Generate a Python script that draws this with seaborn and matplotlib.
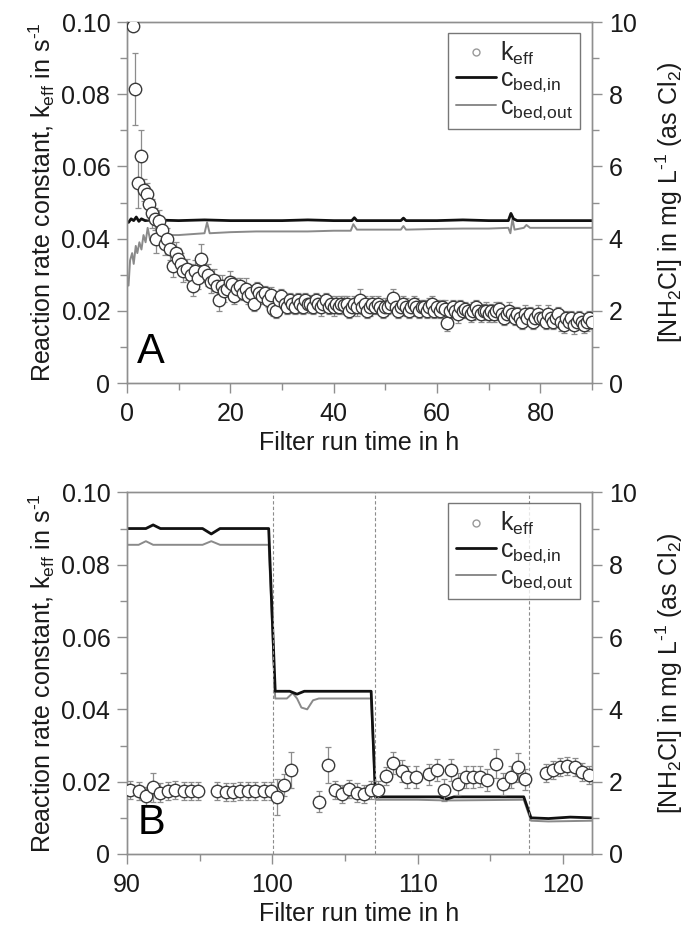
import numpy as np
import seaborn as sns
import matplotlib.pyplot as plt
from matplotlib.lines import Line2D
from matplotlib.ticker import MultipleLocator

# ---- panel A data: effective rate constant k_eff (left axis, 1/s) ----
ka_x_early = [1.2, 1.6, 2.2, 2.7, 3.3, 3.8, 4.3, 4.9, 5.4, 5.6,
              6.1, 6.7, 7.3, 7.8, 8.3, 8.9, 9.4, 9.8, 10.4, 10.9,
              11.7, 12.3, 12.8, 13.2, 13.7, 14.4, 14.9, 15.6, 16.2, 16.9,
              17.4, 17.8, 18.3, 18.8, 19.3, 19.9, 20.4, 20.7, 21.3, 21.9,
              22.4, 23.0, 23.5, 24.0, 24.5, 25.1, 25.6, 26.2, 26.7, 27.3,
              27.8, 28.3, 28.8, 29.4, 29.9, 30.5, 31.0]
ka_y_early = [0.099, 0.0815, 0.0555, 0.063, 0.0535, 0.0525, 0.0495, 0.047, 0.0455, 0.040,
              0.045, 0.0425, 0.0385, 0.040, 0.037, 0.0325, 0.036, 0.0345, 0.033, 0.031,
              0.0315, 0.030, 0.027, 0.031, 0.029, 0.0345, 0.031, 0.030, 0.028, 0.0285,
              0.027, 0.023, 0.027, 0.0255, 0.026, 0.028, 0.0275, 0.024, 0.026, 0.027,
              0.025, 0.026, 0.024, 0.025, 0.022, 0.026, 0.025, 0.024, 0.025, 0.023,
              0.0245, 0.0205, 0.020, 0.023, 0.024, 0.022, 0.021]
ka_e_early = [0.001, 0.010, 0.007, 0.007, 0.003, 0.003, 0.004, 0.004, 0.003, 0.004,
              0.003, 0.003, 0.003, 0.003, 0.003, 0.003, 0.003, 0.003, 0.003, 0.003,
              0.003, 0.003, 0.003, 0.003, 0.003, 0.004, 0.003, 0.003, 0.003, 0.003,
              0.003, 0.003, 0.003, 0.003, 0.002, 0.003, 0.002, 0.002, 0.003, 0.002,
              0.002, 0.003, 0.002, 0.002, 0.002, 0.002, 0.002, 0.002, 0.002, 0.002,
              0.002, 0.002, 0.002, 0.002, 0.002, 0.002, 0.002]

ka_x_late = [31.5, 32.0, 32.5, 33.0, 33.5, 34.0, 34.5, 35.0, 35.5, 36.0,
             36.5, 37.0, 37.5, 38.0, 38.5, 39.0, 39.5, 40.0,
             40.5, 41.0, 41.5, 42.0, 42.5, 43.0, 43.5, 44.0, 44.5, 45.0,
             45.5, 46.0, 46.5, 47.0, 47.5, 48.0, 48.5, 49.0, 49.5, 50.0,
             50.5, 51.0, 51.5, 52.0, 52.5, 53.0, 53.5, 54.0, 54.5, 55.0,
             55.5, 56.0, 56.5, 57.0, 57.5, 58.0, 58.5, 59.0, 59.5, 60.0,
             60.5, 61.0, 61.5, 62.0, 62.5, 63.0, 63.5, 64.0, 64.5, 65.0,
             65.5, 66.0, 66.5, 67.0, 67.5, 68.0, 68.5, 69.0, 69.5, 70.0,
             70.5, 71.0, 71.5, 72.0, 72.5, 73.0, 73.5, 74.0, 74.5, 75.0,
             75.5, 76.0, 76.5, 77.0, 77.5, 78.0, 78.5, 79.0, 79.5, 80.0,
             80.5, 81.0, 81.5, 82.0, 82.5, 83.0, 83.5, 84.0, 84.5, 85.0,
             85.5, 86.0, 86.5, 87.0, 87.5, 88.0, 88.5, 89.0, 89.5, 90.0]
ka_y_late = [0.023, 0.022, 0.021, 0.023, 0.022, 0.021, 0.023, 0.022, 0.022, 0.021,
             0.023, 0.022, 0.021, 0.022, 0.023, 0.021, 0.022, 0.021,
             0.022, 0.021, 0.022, 0.0215, 0.022, 0.020, 0.021, 0.022, 0.021, 0.023,
             0.021, 0.022, 0.020, 0.021, 0.022, 0.021, 0.022, 0.021, 0.020, 0.021,
             0.021, 0.022, 0.0235, 0.021, 0.020, 0.021, 0.022, 0.021, 0.020, 0.021,
             0.022, 0.021, 0.020, 0.021, 0.021, 0.020, 0.021, 0.022, 0.020, 0.021,
             0.020, 0.021, 0.0205, 0.0165, 0.020, 0.021, 0.020, 0.019, 0.021, 0.020,
             0.0205, 0.020, 0.019, 0.020, 0.021, 0.020, 0.019, 0.020, 0.020, 0.019,
             0.020, 0.019, 0.020, 0.0205, 0.019, 0.018, 0.019, 0.020, 0.019, 0.018,
             0.019, 0.018, 0.017, 0.019, 0.018, 0.019, 0.017, 0.018, 0.019, 0.018,
             0.018, 0.017, 0.019, 0.018, 0.017, 0.018, 0.019, 0.017, 0.016, 0.018,
             0.017, 0.018, 0.016, 0.017, 0.018, 0.017, 0.016, 0.017, 0.018, 0.017]
ka_e_late = [0.002, 0.0025, 0.002, 0.002, 0.0025, 0.002, 0.002, 0.002, 0.0025, 0.002,
             0.002, 0.002, 0.0025, 0.002, 0.002, 0.002, 0.002, 0.0025,
             0.002, 0.002, 0.002, 0.0025, 0.002, 0.002, 0.002, 0.002, 0.0025, 0.003,
             0.002, 0.002, 0.002, 0.0025, 0.002, 0.002, 0.002, 0.002, 0.002, 0.0025,
             0.002, 0.002, 0.0025, 0.002, 0.002, 0.002, 0.002, 0.0025, 0.002, 0.002,
             0.002, 0.0025, 0.002, 0.002, 0.002, 0.002, 0.0025, 0.002, 0.002, 0.002,
             0.002, 0.002, 0.0025, 0.002, 0.002, 0.002, 0.002, 0.0025, 0.002, 0.002,
             0.002, 0.002, 0.002, 0.0025, 0.002, 0.002, 0.002, 0.002, 0.0025, 0.002,
             0.002, 0.002, 0.0025, 0.002, 0.002, 0.002, 0.002, 0.0025, 0.002, 0.002,
             0.002, 0.002, 0.002, 0.0025, 0.002, 0.002, 0.002, 0.002, 0.0025, 0.002,
             0.002, 0.002, 0.0025, 0.002, 0.002, 0.002, 0.002, 0.0025, 0.002, 0.002,
             0.002, 0.002, 0.0025, 0.002, 0.002, 0.002, 0.002, 0.0025, 0.002, 0.002]

# ---- panel A monochloramine concentrations (right axis, mg/L as Cl2) ----
ca_in_x = [0.3, 0.8, 1.3, 1.8, 2.3, 2.8, 3.5, 5, 10, 15, 20, 25, 30, 35, 40,
           43.5, 44, 44.5, 50, 53, 53.5, 54, 60, 65, 70, 73.8, 74.3, 74.8, 75.5,
           80, 85, 90]
ca_in_y = [4.45, 4.55, 4.5, 4.6, 4.48, 4.55, 4.5, 4.52, 4.5, 4.52, 4.5, 4.5, 4.5, 4.52, 4.5,
           4.5, 4.58, 4.5, 4.5, 4.5, 4.57, 4.5, 4.5, 4.52, 4.5, 4.5, 4.7, 4.55, 4.5,
           4.5, 4.5, 4.5]
ca_out_x = [0.3, 0.6, 1.0, 1.3, 1.7, 2.0, 2.4, 2.8, 3.2, 3.6, 4.0, 4.5, 5.0, 6, 8,
            10, 12, 15, 15.5, 16, 20, 25, 30, 35, 40, 43.3, 43.8, 44.5, 50, 53,
            53.5, 54, 60, 65, 70, 73.8, 74.2, 74.6, 75, 76.8, 77.3, 78, 85, 90]
ca_out_y = [2.7, 3.4, 3.6, 3.3, 3.8, 3.6, 3.9, 3.7, 4.1, 3.9, 4.3, 3.95, 4.05, 4.0, 4.1,
            4.1, 4.12, 4.15, 4.45, 4.15, 4.18, 4.2, 4.2, 4.2, 4.22, 4.22, 4.4, 4.25, 4.25, 4.25,
            4.35, 4.25, 4.27, 4.28, 4.28, 4.3, 4.15, 4.55, 4.25, 4.3, 4.38, 4.3, 4.3, 4.3]

# ---- panel B data ----
kb_x = [90.2, 90.8, 91.3, 91.8, 92.3, 92.8, 93.3, 93.9, 94.4, 94.9,
        96.2, 96.8, 97.3, 97.8, 98.3, 98.8, 99.4, 99.9, 100.3, 100.8,
        101.3, 103.2, 103.8, 104.3, 104.8, 105.3, 105.8, 106.3, 106.8, 107.3,
        107.8, 108.3, 108.9, 109.3, 109.9, 110.8, 111.3, 111.8, 112.3, 112.8,
        113.3, 113.8, 114.3, 114.8, 115.4, 115.9, 116.4, 116.9, 117.4,
        118.8, 119.3, 119.8, 120.3, 120.8, 121.3, 121.8]
kb_y = [0.0177, 0.0175, 0.016, 0.0185, 0.017, 0.0175, 0.0177, 0.0175, 0.0174, 0.0174,
        0.0174, 0.0172, 0.0172, 0.0174, 0.0174, 0.0174, 0.0174, 0.0175, 0.0157, 0.019,
        0.0232, 0.0145, 0.0246, 0.0177, 0.0166, 0.0179, 0.017, 0.0166, 0.0177, 0.0177,
        0.0215, 0.0252, 0.023, 0.0212, 0.0212, 0.022, 0.0233, 0.0177, 0.0233, 0.0193,
        0.0212, 0.0212, 0.0214, 0.0205, 0.0249, 0.0193, 0.0212, 0.024, 0.0206,
        0.0224, 0.0232, 0.0241, 0.0243, 0.0241, 0.0227, 0.0218]
kb_e = [0.0025, 0.0025, 0.0025, 0.004, 0.0025, 0.0025, 0.0025, 0.0025, 0.0025, 0.0025,
        0.0025, 0.0025, 0.0025, 0.0025, 0.0025, 0.0025, 0.0025, 0.0025, 0.005, 0.003,
        0.005, 0.003, 0.005, 0.0025, 0.0025, 0.0025, 0.0025, 0.0025, 0.0025, 0.0025,
        0.0025, 0.003, 0.003, 0.003, 0.003, 0.003, 0.003, 0.003, 0.003, 0.003,
        0.003, 0.003, 0.003, 0.003, 0.004, 0.003, 0.003, 0.004, 0.003,
        0.0025, 0.0025, 0.0025, 0.0025, 0.0025, 0.0025, 0.0025]

cb_in_x = [90, 91.3, 91.8, 92.3, 95.2, 95.8, 96.4, 99.75, 100.2, 101.2, 101.7, 102.2,
           103.5, 106.8, 107.1, 110, 111.5, 112, 112.5, 117.3, 117.8, 119, 120.5, 122]
cb_in_y = [9.0, 9.0, 9.1, 9.0, 9.0, 8.85, 9.0, 9.0, 4.5, 4.5, 4.42, 4.5,
           4.5, 4.5, 1.58, 1.58, 1.58, 1.52, 1.58, 1.58, 1.0, 0.98, 1.02, 1.0]
cb_out_x = [90, 90.8, 91.3, 91.8, 95.2, 95.8, 96.4, 99.75, 100.2, 101.0, 101.4, 101.7,
            102.0, 102.4, 102.8, 103.2, 105, 106.8, 107.1, 110, 112, 117.3, 117.8, 119, 122]
cb_out_y = [8.55, 8.55, 8.65, 8.55, 8.55, 8.65, 8.55, 8.55, 4.3, 4.3, 4.45, 4.3,
            4.05, 4.0, 4.25, 4.3, 4.3, 4.3, 1.5, 1.5, 1.48, 1.5, 0.92, 0.9, 0.92]
step_changes = [100.05, 107.05, 117.65]

SPINE = "#8f8f8f"
TXT = "#1a1a1a"
FS = 18

sns.set_style("ticks")
plt.rcParams["font.family"] = ["Liberation Sans", "DejaVu Sans"]
plt.rcParams["mathtext.default"] = "regular"


def style_axes(ax, ax2, xlim, xmajor, xminor):
    ax.set_xlim(*xlim)
    ax.set_ylim(0, 0.1)
    ax2.set_ylim(0, 10)
    ax.xaxis.set_major_locator(MultipleLocator(xmajor))
    ax.xaxis.set_minor_locator(MultipleLocator(xminor))
    ax.set_yticks([0, 0.02, 0.04, 0.06, 0.08, 0.10])
    ax.set_yticklabels(["0", "0.02", "0.04", "0.06", "0.08", "0.10"])
    ax.yaxis.set_minor_locator(MultipleLocator(0.01))
    ax2.set_yticks([0, 2, 4, 6, 8, 10])
    ax2.yaxis.set_minor_locator(MultipleLocator(1))
    for a in (ax, ax2):
        for s in a.spines.values():
            s.set_visible(True)
            s.set_color(SPINE)
            s.set_linewidth(1.0)
        a.tick_params(which="major", direction="out", length=7, width=1,
                      color=SPINE, labelcolor=TXT, labelsize=FS, pad=5)
        a.tick_params(which="minor", direction="out", length=5, width=1, color=SPINE)
    ax.tick_params(axis="x", which="major", pad=7)
    ax.set_xlabel("Filter run time in h", fontsize=FS, color=TXT, labelpad=3)
    ax.set_ylabel("Reaction rate constant, k$_{eff}$ in s$^{\u2010 1}$",
                  fontsize=FS, color=TXT, labelpad=3)
    ax2.set_ylabel("[NH$_2$Cl] in mg L$^{\u2010 1}$ (as Cl$_2$)",
                   fontsize=FS, color=TXT, labelpad=12)
    # circles drawn above the concentration lines
    ax.set_zorder(ax2.get_zorder() + 1)
    ax.patch.set_visible(False)


def draw_panel(ax, ax2, kx, ky, ke, cin_x, cin_y, cout_x, cout_y):
    sns.lineplot(x=cout_x, y=cout_y, ax=ax2, color="#8a8a8a", linewidth=1.4,
                 sort=False, estimator=None)
    sns.lineplot(x=cin_x, y=cin_y, ax=ax2, color="#111111", linewidth=2.0,
                 sort=False, estimator=None)
    ax.errorbar(kx, ky, yerr=ke, fmt="none", ecolor="#8c8c8c", elinewidth=0.9,
                capsize=2, capthick=0.9, zorder=2)
    sns.scatterplot(x=kx, y=ky, ax=ax, s=80, facecolor="white",
                    edgecolor="#3a3a3a", linewidth=1.0, zorder=3)


def add_legend(ax):
    handles = [
        Line2D([], [], linestyle="none", marker="o", markersize=5,
               markerfacecolor="white", markeredgecolor="#999999"),
        Line2D([], [], color="#111111", linewidth=2.0),
        Line2D([], [], color="#8a8a8a", linewidth=1.4),
    ]
    labels = ["k$_{eff}$", "c$_{bed{,}in}$", "c$_{bed{,}out}$"]
    leg = ax.legend(handles, labels, loc="upper right", bbox_to_anchor=(0.985, 0.985),
                    fontsize=FS, frameon=True, fancybox=False, handlelength=1.6,
                    handletextpad=0.15, labelspacing=0.0, borderpad=0.3,
                    borderaxespad=0.2)
    leg.get_frame().set_edgecolor("#555555")
    leg.get_frame().set_linewidth(1.0)


fig = plt.figure(figsize=(6.89, 9.32), dpi=100)

# panel A
axA = fig.add_axes([0.1843, 0.589, 0.675, 0.3873])
axA2 = axA.twinx()
draw_panel(axA, axA2, ka_x_early + ka_x_late, ka_y_early + ka_y_late,
           ka_e_early + ka_e_late, ca_in_x, ca_in_y, ca_out_x, ca_out_y)
style_axes(axA, axA2, (0, 90), 20, 10)
add_legend(axA)
axA.text(0.022, 0.03, "A", transform=axA.transAxes, fontsize=30, color="black",
         ha="left", va="bottom")

# panel B
axB = fig.add_axes([0.1843, 0.0837, 0.675, 0.388])
axB2 = axB.twinx()
for xc in step_changes:
    axB.axvline(xc, color="#8c8c8c", linewidth=0.8, linestyle=(0, (3, 2)), zorder=1)
draw_panel(axB, axB2, kb_x, kb_y, kb_e, cb_in_x, cb_in_y, cb_out_x, cb_out_y)
style_axes(axB, axB2, (90, 122), 10, 5)
add_legend(axB)
axB.text(0.022, 0.03, "B", transform=axB.transAxes, fontsize=30, color="black",
         ha="left", va="bottom")

fig.savefig("out.png", dpi=100)
